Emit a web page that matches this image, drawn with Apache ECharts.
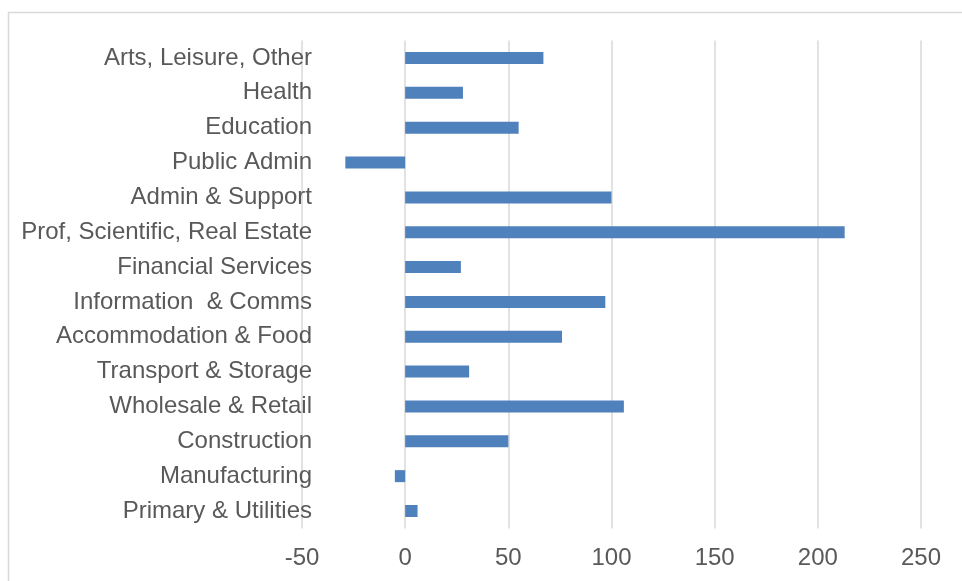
<!DOCTYPE html>
<html>
<head>
<meta charset="utf-8">
<script src="https://cdn.jsdelivr.net/npm/echarts@6/dist/echarts.min.js"></script>
<style>
  html, body { margin: 0; padding: 0; background: #fff; }
  #chart { width: 962px; height: 581px; }
</style>
</head>
<body>
<div id="chart"></div>
<script>
// Sectors, listed top to bottom
const sectors = [
  'Arts, Leisure, Other',
  'Health',
  'Education',
  'Public Admin',
  'Admin & Support',
  'Prof, Scientific, Real Estate',
  'Financial Services',
  'Information  & Comms',
  'Accommodation & Food',
  'Transport & Storage',
  'Wholesale & Retail',
  'Construction',
  'Manufacturing',
  'Primary & Utilities'
];

// Change per sector
const changes = [67, 28, 55, -29, 100, 213, 27, 97, 76, 31, 106, 50, -5, 6];

// Value axis range and step
const axisMin = -50;
const axisMax = 250;
const axisStep = 50;

const chart = echarts.init(document.getElementById('chart'));

chart.setOption({
  animation: false,
  backgroundColor: '#ffffff',
  textStyle: { fontFamily: 'Liberation Sans, Arial, sans-serif' },
  graphic: [
    {
      type: 'rect',
      silent: true,
      shape: { x: 8.5, y: 12.5, width: 1000, height: 700 },
      style: { fill: 'none', stroke: '#d9d9d9', lineWidth: 1.5 }
    }
  ],
  grid: {
    left: 302,
    right: 41,
    top: 40.6,
    bottom: 52.6,
    containLabel: false
  },
  xAxis: {
    type: 'value',
    min: axisMin,
    max: axisMax,
    interval: axisStep,
    axisLine: { show: false },
    axisTick: { show: false },
    axisLabel: {
      color: '#595959',
      fontSize: 24,
      margin: 18,
      fontFamily: 'Liberation Sans, Arial, sans-serif'
    },
    splitLine: { show: true, lineStyle: { color: '#d9d9d9', width: 1.5 } }
  },
  yAxis: {
    type: 'category',
    data: sectors,
    inverse: true,
    axisLine: { show: false },
    axisTick: { show: false },
    splitLine: { show: false },
    axisLabel: {
      color: '#595959',
      fontSize: 24,
      margin: -10,
      padding: [3, 0, 0, 0],
      fontFamily: 'Liberation Sans, Arial, sans-serif'
    }
  },
  series: [
    {
      type: 'bar',
      data: changes,
      barWidth: 12,
      itemStyle: { color: '#4f81bd' }
    }
  ]
});
</script>
</body>
</html>
